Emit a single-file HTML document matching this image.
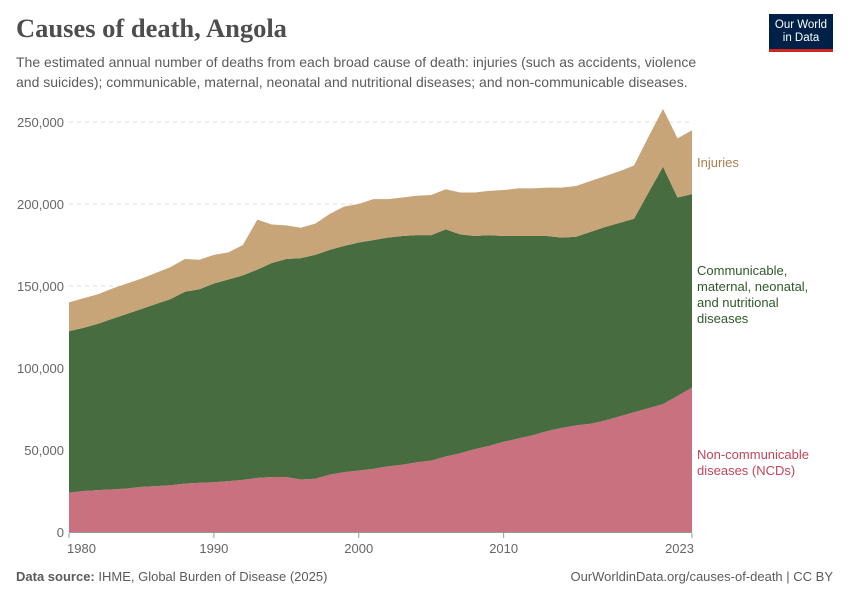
<!DOCTYPE html>
<html><head><meta charset="utf-8"><style>
body{margin:0;background:#fff;font-family:"Liberation Sans",sans-serif;}
#wrap{position:relative;width:850px;height:600px;overflow:hidden}
.t{position:absolute;white-space:nowrap}
</style></head><body><div id="wrap">
<div class="t" style="left:16px;top:13px;font-family:'Liberation Serif',serif;font-size:26.5px;font-weight:bold;color:#4e4e4e">Causes of death, Angola</div>
<div class="t" style="left:16px;top:52px;font-size:14px;line-height:20px;color:#5b5b5b">The estimated annual number of deaths from each broad cause of death: injuries (such as accidents, violence<br>and suicides); communicable, maternal, neonatal and nutritional diseases; and non-communicable diseases.</div>
<div style="position:absolute;left:769px;top:14px;width:64px;height:38px;background:#002147;border-bottom:3px solid #ce261e;box-sizing:border-box;color:#fff;font-size:11.5px;line-height:13px;text-align:center;padding-top:5px">Our World<br>in Data</div>
<svg id="svg" width="850" height="600" style="position:absolute;left:0;top:0"></svg>
<div class="t" style="left:16px;top:569px;font-size:13px;color:#5b5b5b"><b>Data source:</b> IHME, Global Burden of Disease (2025)</div>
<div class="t" style="right:17px;top:569px;font-size:13px;color:#5b5b5b">OurWorldinData.org/causes-of-death | CC BY</div>
</div>
<script>
const years=[];for(let y=1980;y<=2023;y++)years.push(y);
const ncd=[24,25,25.5,26,26.5,27.5,28,28.5,29.5,30,30.3,31,31.8,33,33.5,33.5,32,32.5,35,36.5,37.5,38.5,40,41,42.5,43.5,46,48,50.5,52.5,55,57,59,61.5,63.5,65,66,68,70.5,73,75.5,78,83,88];
const greenTop=[122.5,124.5,127,130,133,136,139,142,146.5,148,151.5,154,156.5,160,164,166.5,167,169,172,174.5,176.5,178,179.5,180.5,181,181,184.5,181.5,180.5,181,180.5,180.5,180.5,180.5,179.5,180,183,186,188.5,191,207,222.7,204,206];
const totalTop=[140,142.5,145,148.5,151.5,154.5,158,161.5,166.5,166,169,170.5,175,190.5,187.5,187,185.5,188,194,198.5,200,203,203,204,205,205.5,209,207,207,208,208.5,209.5,209.5,210,210,211,214,217,220,223.5,241,258,240,245];
const communicable=greenTop.map((v,i)=>v-ncd[i]);
const injuries=totalTop.map((v,i)=>v-greenTop[i]);
const yTicks=[0,50000,100000,150000,200000,250000];
const yTickLabels=["0","50,000","100,000","150,000","200,000","250,000"];
const xTicks=[1980,1990,2000,2010,2023];
const X=y=>69+(y-1980)*(692-69)/43;
const Y=v=>532-v*1000*410/250000;
const s=document.getElementById('svg');const NS='http://www.w3.org/2000/svg';
function mk(t,a,txt){const e=document.createElementNS(NS,t);for(const k in a)e.setAttribute(k,a[k]);if(txt!=null)e.textContent=txt;s.appendChild(e);return e;}
yTicks.forEach((v,i)=>{
 if(v>0){const g=mk('line',{x1:69,x2:692,y1:532-v*410/250000,y2:532-v*410/250000,stroke:'#ddd','stroke-dasharray':'4,4'});
 
 }
 const t=mk('text',{x:64,y:532-v*410/250000+5,'text-anchor':'end','font-size':13,fill:'#666','font-family':'Liberation Sans'},yTickLabels[i]);
 
 
});
const stacks=[[ncd.map(()=>0),ncd,'#ca7180','ncd-area'],[ncd,communicable.map((v,i)=>v+ncd[i]),'#476c40','communicable-area'],[greenTop,injuries.map((v,i)=>v+greenTop[i]),'#c8a479','injuries-area']];
stacks.forEach(([lo,hi,c,n])=>{
 let d='M'+years.map((y,i)=>X(y)+','+Y(hi[i])).join('L');
 for(let i=years.length-1;i>=0;i--)d+='L'+X(years[i])+','+Y(lo[i]);
 const p=mk('path',{d:d+'Z',fill:c});
 
 
});
const ax=mk('line',{x1:69,x2:692,y1:532.5,y2:532.5,stroke:'#999'});


xTicks.forEach(y=>{
 const tk=mk('line',{x1:X(y),x2:X(y),y1:533,y2:538,stroke:'#999'});
 
 
 const anc=y===1980?'start':(y===2023?'end':'middle');
 const t=mk('text',{x:y===1980?X(y)-2:(y===2023?X(y)+2:X(y)),y:553,'text-anchor':anc,'font-size':13,fill:'#666','font-family':'Liberation Sans'},String(y));
 
 
});
function lab(lines,y0,c,n){lines.forEach((l,i)=>{const t=mk('text',{x:697,y:y0+i*16,'font-size':13,fill:c,'font-family':'Liberation Sans'},l);
 
 });}
lab(['Injuries'],167,'#a8804f','legend-injuries');
lab(['Communicable,','maternal, neonatal,','and nutritional','diseases'],275,'#2f5a28','legend-communicable');
lab(['Non-communicable','diseases (NCDs)'],459,'#c0455b','legend-ncd');
</script></body></html>
